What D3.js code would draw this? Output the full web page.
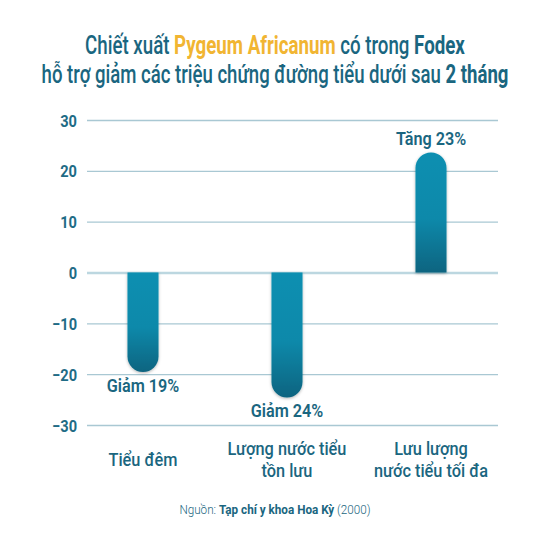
<!DOCTYPE html>
<html>
<head>
<meta charset="utf-8">
<script src="https://cdn.jsdelivr.net/npm/d3@7"></script>
<style>
  html, body { margin: 0; padding: 0; background: #ffffff; }
  svg { display: block; font-family: Roboto, "Noto Sans", sans-serif; }
</style>
</head>
<body>
<svg id="chart" width="550" height="550"></svg>
<script>
// ---- data ----
const categories = ["Tiểu đêm", "Lượng nước tiểu tồn lưu", "Lưu lượng nước tiểu tối đa"];
const categoryLines = [["Tiểu đêm"], ["Lượng nước tiểu", "tồn lưu"], ["Lưu lượng", "nước tiểu tối đa"]];
const values = [-19, -24, 23];
const valueLabels = ["Giảm 19%", "Giảm 24%", "Tăng 23%"];
const yTicks = [-30, -20, -10, 0, 10, 20, 30];
const titleLine1 = [
  { t: "Chiết xuất  ", c: "dark", w: 500 },
  { t: "Pygeum Africanum", c: "gold", w: 700 },
  { t: " có trong ", c: "dark", w: 500 },
  { t: "Fodex", c: "dark", w: 700 }
];
const titleLine2 = [
  { t: "hỗ trợ giảm các triệu chứng đường tiểu dưới sau ", c: "dark", w: 500 },
  { t: "2 tháng", c: "dark", w: 700 }
];
const sourceParts = [
  { t: "Nguồn: ", w: 300 },
  { t: "Tạp chí y khoa Hoa Kỳ", w: 700 },
  { t: " (2000)", w: 300 }
];

// ---- style ----
const DARK = "#1a6680";
const GOLD = "#f1b532";
const TICK = "#1f6c86";
const GRID = "#a9c8d3";
const K = 0.86; // horizontal condensing

const svg = d3.select("#chart");
const defs = svg.append("defs");
const grad = defs.append("linearGradient").attr("id", "barGrad")
  .attr("x1", 0).attr("y1", 0).attr("x2", 0).attr("y2", 1);
grad.append("stop").attr("offset", "0%").attr("stop-color", "#0a8fb1");
grad.append("stop").attr("offset", "55%").attr("stop-color", "#0a89aa");
grad.append("stop").attr("offset", "100%").attr("stop-color", "#0c6480");
const filt = defs.append("filter").attr("id", "shadow")
  .attr("x", "-40%").attr("y", "-20%").attr("width", "180%").attr("height", "140%");
filt.append("feDropShadow").attr("dx", 0).attr("dy", 1).attr("stdDeviation", 1.6)
  .attr("flood-color", "#000").attr("flood-opacity", 0.3);

const y = d3.scaleLinear().domain([-30, 30]).range([425, 120]);
const x = d3.scalePoint().domain(categories).range([143, 431]);
const gridX0 = 87, gridX1 = 498;
const barW = 31, r = barW / 2, overshoot = 3;

function condense(sel, k) {
  sel.each(function () {
    const s = d3.select(this);
    const ax = +s.attr("x");
    s.attr("transform", `translate(${ax},0) scale(${k},1) translate(${-ax},0)`);
  });
}
function fitWidth(sel, target) {
  const node = sel.node();
  const w = node.getComputedTextLength();
  condense(sel, target / w);
}

// ---- title ----
function titleLine(parts, yy, target) {
  const t = svg.append("text").attr("x", 275).attr("y", yy)
    .attr("text-anchor", "middle").attr("font-size", 25);
  t.selectAll("tspan").data(parts).join("tspan")
    .attr("fill", d => d.c === "gold" ? GOLD : DARK)
    .attr("font-weight", d => d.w)
    .text(d => d.t);
  fitWidth(t, target);
}
titleLine(titleLine1, 54, 380);
titleLine(titleLine2, 83, 467);

// ---- grid + y axis ----
const gAxis = svg.append("g").attr("transform", `translate(${gridX0},0)`)
  .call(d3.axisLeft(y).tickValues(yTicks).tickSize(-(gridX1 - gridX0)).tickPadding(10).tickFormat(d3.format("d")));
gAxis.select(".domain").remove();
gAxis.selectAll(".tick line")
  .attr("stroke", d => d === 0 ? "#bcd7e0" : GRID)
  .attr("stroke-width", d => d === 0 ? 2.4 : 1.3);
gAxis.selectAll(".tick text")
  .attr("fill", TICK).attr("font-size", 17).attr("font-weight", 700)
  .attr("font-family", "Roboto, sans-serif").attr("dy", "0.36em")
  .attr("x", -10);
condense(gAxis.selectAll(".tick text"), K);

// ---- bars ----
function barPath(v, cx) {
  const y0 = y(0);
  const xl = cx - barW / 2, xr = cx + barW / 2;
  if (v < 0) {
    const ye = y(v) + overshoot;
    return `M${xl},${y0} L${xl},${ye - r} A${r},${r} 0 0 0 ${xr},${ye - r} L${xr},${y0} Z`;
  } else {
    const ye = y(v) - overshoot;
    return `M${xl},${y0} L${xl},${ye + r} A${r},${r} 0 0 1 ${xr},${ye + r} L${xr},${y0} Z`;
  }
}
svg.append("g").selectAll("path").data(values).join("path")
  .attr("d", (v, i) => barPath(v, x(categories[i])))
  .attr("fill", "url(#barGrad)")
  .attr("filter", "url(#shadow)");

// ---- value labels ----
const vl = svg.append("g").selectAll("text").data(values).join("text")
  .attr("x", (v, i) => x(categories[i]))
  .attr("y", v => v < 0 ? y(v) + overshoot + 20 : y(v) - overshoot - 8)
  .attr("text-anchor", "middle").attr("font-size", 18).attr("font-weight", 600)
  .attr("fill", DARK)
  .text((v, i) => valueLabels[i]);
condense(vl, 0.9);

// ---- category labels ----
const cg = svg.append("g");
categoryLines.forEach((lines, i) => {
  const base = lines.length === 1 ? 466 : 455;
  lines.forEach((ln, j) => {
    const t = cg.append("text")
      .attr("x", x(categories[i])).attr("y", base + j * 22)
      .attr("text-anchor", "middle").attr("font-size", 19).attr("font-weight", 500)
      .attr("fill", DARK).text(ln);
    condense(t, K);
  });
});

// ---- source ----
const src = svg.append("text").attr("x", 275).attr("y", 514)
  .attr("text-anchor", "middle").attr("font-size", 13).attr("fill", DARK);
src.selectAll("tspan").data(sourceParts).join("tspan")
  .attr("font-weight", d => d.w).text(d => d.t);
condense(src, 0.9);
</script>
</body>
</html>
